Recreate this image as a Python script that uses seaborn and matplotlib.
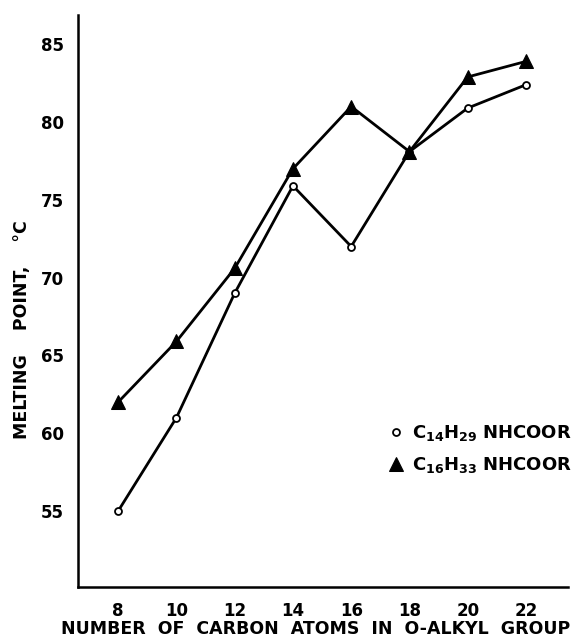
import matplotlib
matplotlib.use("Agg")
import matplotlib.pyplot as plt
import seaborn as sns
import pandas as pd

carbons = [8, 10, 12, 14, 16, 18, 20, 22]
mp_c14 = [55.0, 61.0, 69.0, 75.9, 72.0, 78.1, 80.9, 82.4]
mp_c16 = [62.0, 65.9, 70.6, 77.0, 81.0, 78.1, 82.9, 83.9]
label_c14 = r"C$_{14}$H$_{29}$ NHCOOR"
label_c16 = r"C$_{16}$H$_{33}$ NHCOOR"
xticks = [8, 10, 12, 14, 16, 18, 20, 22]
yticks = [55, 60, 65, 70, 75, 80, 85]

sns.set_theme(style="white")
plt.rcParams['font.family'] = ['DejaVu Sans']
plt.rcParams['mathtext.default'] = 'bf'
plt.rcParams['text.color'] = 'black'
plt.rcParams['axes.labelcolor'] = 'black'
plt.rcParams['xtick.color'] = 'black'
plt.rcParams['ytick.color'] = 'black'

df = pd.concat([
    pd.DataFrame({"x": carbons, "y": mp_c14, "s": label_c14}),
    pd.DataFrame({"x": carbons, "y": mp_c16, "s": label_c16}),
])

fig = plt.figure(figsize=(5.78, 6.41), dpi=100)
ax = fig.add_axes([0.135, 0.084, 0.848, 0.893])

sns.lineplot(data=df[df.s == label_c14], x="x", y="y", ax=ax, color="black",
             lw=2, marker="o", markersize=5, markerfacecolor="white",
             markeredgecolor="black", markeredgewidth=1.3, label=label_c14)
sns.lineplot(data=df[df.s == label_c16], x="x", y="y", ax=ax, color="black",
             lw=2, marker="^", markersize=10, markerfacecolor="black",
             markeredgecolor="black", label=label_c16)

ax.set_xlim(6.62, 23.45)
ax.set_ylim(50.1, 86.9)
ax.set_xticks(xticks)
ax.set_yticks(yticks)
ax.set_xticklabels([str(t) for t in xticks], fontsize=12, fontweight="bold")
ax.set_yticklabels([str(t) for t in yticks], fontsize=12, fontweight="bold")
ax.tick_params(direction="inout", length=14, width=1.6, color="black", pad=3,
               labelcolor="black")
ax.tick_params(axis="x", pad=4)
for s in ["top", "right"]:
    ax.spines[s].set_visible(False)
for s in ["left", "bottom"]:
    ax.spines[s].set_color("black")
    ax.spines[s].set_linewidth(1.8)

ax.set_xlabel("NUMBER  OF  CARBON  ATOMS  IN  O-ALKYL  GROUP",
              fontsize=12.5, fontweight="bold", loc="left", color="black")
ax.xaxis.set_label_coords(-0.035, -0.058)
ax.set_ylabel("MELTING    POINT,    °C", fontsize=12.5, fontweight="bold",
              color="black")
ax.yaxis.set_label_coords(-0.095, 0.45)

leg = ax.legend(loc="upper left", bbox_to_anchor=(0.6, 0.315), frameon=False,
                handlelength=0.8, handletextpad=0.5, labelspacing=0.65,
                prop={"size": 13, "weight": "bold"})
for h in leg.legend_handles:
    h.set_linestyle("None")
for t in leg.get_texts():
    t.set_color("black")

fig.savefig("out.png", dpi=100)
